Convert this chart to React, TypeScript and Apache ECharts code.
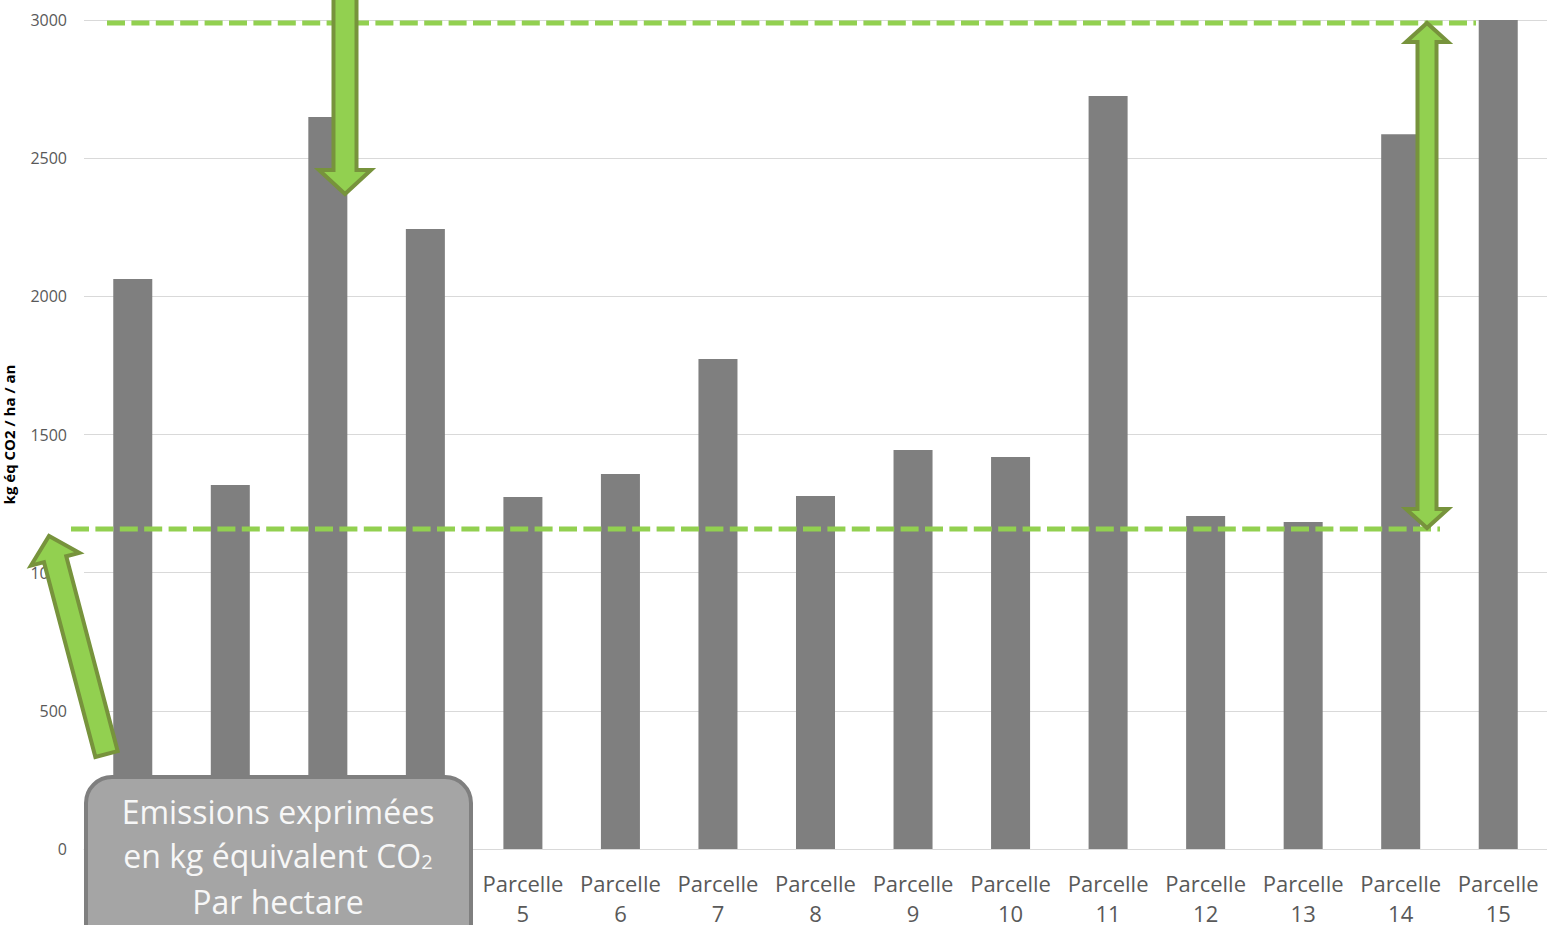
import React, { useEffect, useRef } from "react";
import * as echarts from "echarts";

const categories = [
  "Parcelle 1", "Parcelle 2", "Parcelle 3", "Parcelle 4", "Parcelle 5",
  "Parcelle 6", "Parcelle 7", "Parcelle 8", "Parcelle 9", "Parcelle 10",
  "Parcelle 11", "Parcelle 12", "Parcelle 13", "Parcelle 14", "Parcelle 15",
];
const emissions = [2063, 1317, 2649, 2244, 1274, 1357, 1773, 1277, 1444, 1419, 2725, 1205, 1183, 2587, 3000];
const yTicks = { min: 0, max: 3000, interval: 500 };
const axisTitle = "kg éq CO2 / ha / an";
const boxLines = ["Emissions exprimées", "en kg équivalent CO", "Par hectare"];

type P = [number, number];

function arrowPts(tail: P, tip: P, s: number, h: number, L: number): P[] {
  const dx = tip[0] - tail[0], dy = tip[1] - tail[1];
  const len = Math.hypot(dx, dy);
  const u: P = [dx / len, dy / len];
  const n: P = [-u[1], u[0]];
  const C: P = [tip[0] - u[0] * L, tip[1] - u[1] * L];
  const add = (p: P, v: P, k: number): P => [p[0] + v[0] * k, p[1] + v[1] * k];
  return [add(tail, n, s), add(C, n, s), add(C, n, h), tip, add(C, n, -h), add(C, n, -s), add(tail, n, -s)];
}

function doubleArrowPts(t1: P, t2: P, s: number, h: number, L: number): P[] {
  const dx = t1[0] - t2[0], dy = t1[1] - t2[1];
  const len = Math.hypot(dx, dy);
  const u: P = [dx / len, dy / len];
  const n: P = [-u[1], u[0]];
  const C1: P = [t1[0] - u[0] * L, t1[1] - u[1] * L];
  const C2: P = [t2[0] + u[0] * L, t2[1] + u[1] * L];
  const add = (p: P, v: P, k: number): P => [p[0] + v[0] * k, p[1] + v[1] * k];
  return [
    add(C2, n, s), add(C1, n, s), add(C1, n, h), t1, add(C1, n, -h), add(C1, n, -s),
    add(C2, n, -s), add(C2, n, -h), t2, add(C2, n, h),
  ];
}

const GREEN = "#92d050";
const DARKGREEN = "#77933c";
const FONT = "'Open Sans', sans-serif";

export default function App() {
  const ref = useRef<HTMLDivElement>(null);
  useEffect(() => {
    document.body.style.margin = "0";
    const chart = echarts.init(ref.current!, null, { renderer: "svg" });
    const arrowStyle = { fill: GREEN, stroke: DARKGREEN, lineWidth: 4, lineJoin: "miter" };
    chart.setOption({
      animation: false,
      backgroundColor: "#ffffff",
      grid: { left: 84, right: 0, top: 20, bottom: 76, containLabel: false, outerBoundsMode: "none" },
      xAxis: {
        type: "category",
        data: categories,
        axisLine: { show: true, lineStyle: { color: "#d9d9d9", width: 1 } },
        axisTick: { show: false },
        axisLabel: {
          interval: 0,
          color: "#595959",
          fontFamily: FONT,
          fontSize: 22,
          lineHeight: 30,
          margin: 19,
          formatter: (v: string) => v.replace(" ", "\n"),
        },
      },
      yAxis: {
        type: "value",
        min: yTicks.min,
        max: yTicks.max,
        interval: yTicks.interval,
        name: axisTitle,
        nameLocation: "middle",
        nameGap: 68,
        nameTextStyle: { color: "#000000", fontWeight: "bold", fontSize: 15, fontFamily: FONT },
        axisLine: { show: false },
        axisTick: { show: false },
        axisLabel: {
          color: "#595959", fontFamily: FONT, fontSize: 16, margin: 17,
          formatter: (v: number) => String(v),
        },
        splitLine: { lineStyle: { color: "#d9d9d9", width: 1 } },
      },
      series: [
        {
          type: "bar",
          data: emissions,
          barWidth: "40%",
          itemStyle: { color: "#7f7f7f" },
        },
      ],
      graphic: [
        {
          type: "line", z: 100,
          shape: { x1: 107, y1: 23, x2: 1476, y2: 23 },
          style: { stroke: GREEN, lineWidth: 5, lineDash: [18, 6.4] },
        },
        {
          type: "line", z: 100,
          shape: { x1: 71, y1: 529, x2: 1440, y2: 529 },
          style: { stroke: GREEN, lineWidth: 5, lineDash: [18, 6.4] },
        },
        {
          type: "polygon", z: 110,
          shape: { points: arrowPts([345, -20], [345, 194], 11.5, 26, 24) },
          style: arrowStyle,
        },
        {
          type: "polygon", z: 110,
          shape: { points: doubleArrowPts([1427, 23], [1427, 528], 9.5, 21, 19) },
          style: arrowStyle,
        },
        {
          type: "polygon", z: 110,
          shape: { points: arrowPts([106.5, 754], [49, 536], 11.5, 25, 24) },
          style: arrowStyle,
        },
        {
          type: "rect", z: 120,
          shape: { x: 86, y: 777, width: 385, height: 190, r: 26 },
          style: { fill: "#a5a5a5", stroke: "#7f7f7f", lineWidth: 4 },
        },
        {
          type: "text", z: 130, x: 278, y: 811,
          style: {
            text: boxLines[0], fill: "#f7f7f7", font: `32px ${FONT}`,
            align: "center", verticalAlign: "middle",
          },
        },
        {
          type: "text", z: 130, x: 278, y: 849,
          style: {
            text: `{m|${boxLines[1]}}{s|2}`,
            align: "center", verticalAlign: "middle",
            rich: {
              m: { fill: "#f7f7f7", fontSize: 32, fontFamily: FONT, lineHeight: 44, verticalAlign: "bottom" },
              s: { fill: "#f7f7f7", fontSize: 20, fontFamily: FONT, lineHeight: 22, verticalAlign: "bottom" },
            },
          },
        },
        {
          type: "text", z: 130, x: 278, y: 901,
          style: {
            text: boxLines[2], fill: "#f7f7f7", font: `32px ${FONT}`,
            align: "center", verticalAlign: "middle",
          },
        },
      ],
    });
    return () => chart.dispose();
  }, []);
  return <div ref={ref} style={{ position: "fixed", left: 0, top: 0, width: 1547, height: 925 }} />;
}
